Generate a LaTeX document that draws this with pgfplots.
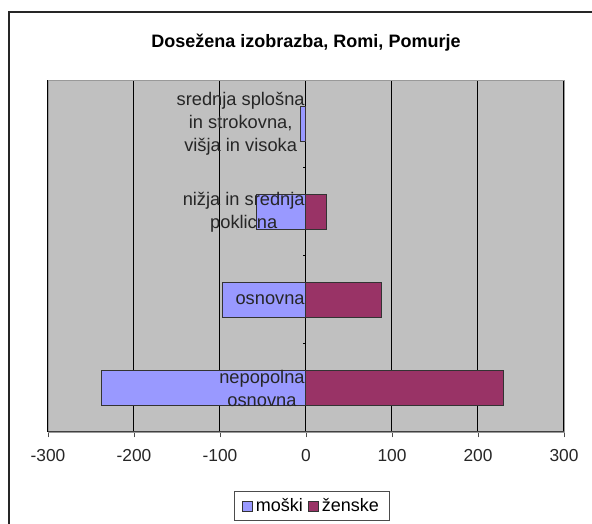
\documentclass[border=0pt]{standalone}
\usepackage{pgfplots}
\pgfplotsset{compat=1.18}
\usepackage{fontspec}
\setmainfont{Liberation Sans}

\definecolor{moski}{HTML}{9999FF}
\definecolor{zenske}{HTML}{993366}
\definecolor{plotbg}{HTML}{C0C0C0}

\pgfplotsset{
    pyramid frame/.style={
        at={(36pt,69pt)}, anchor=south west,
        scale only axis,
        width=387pt, height=264pt,
        xmin=-300, xmax=300,
        ymin=0.5, ymax=4.5,
    },
}

\begin{document}
\begin{tikzpicture}
% page = 592 x 524 px, 1px = 0.75pt
\useasboundingbox (0,0) rectangle (444pt,393pt);
\clip (0,0) rectangle (444pt,393pt);
\fill[white] (0,0) rectangle (444pt,393pt);
\draw[black!85, line width=1.1pt] (6.75pt,-10pt) rectangle (470pt,384pt);

% bars, grid, x axis, title, legend
\begin{axis}[
    pyramid frame,
    xbar, bar width=0.4,
    xtick={-300,-200,...,300},
    ytick=\empty,
    xmajorgrids,
    grid style={black, line width=0.75pt},
    axis background/.style={fill=plotbg},
    axis line style={gray!80},
    xtick pos=lower,
    tick align=outside,
    major tick length=4pt,
    x tick style={black!70, line width=0.6pt},
    /pgf/number format/assume math mode=true,
    xticklabel style={font=\fontsize{13}{15}\selectfont, text=black!85, yshift=-5.75pt},
    title={\bfseries Dosežena izobrazba, Romi, Pomurje},
    title style={font=\fontsize{13.5}{16}\selectfont, at={(0.5,1)}, anchor=center, yshift=22pt},
    legend style={at={(0.5116,-0.21)}, anchor=center, legend columns=2,
        draw=black!70, line width=0.6pt, font=\fontsize{13.5}{16}\selectfont,
        inner xsep=6pt, inner ysep=3pt,
        /tikz/every even column/.append style={column sep=2pt}},
    legend image code/.code={\draw[#1, draw=black!80, line width=0.6pt] (0pt,-3.75pt) rectangle (7.5pt,3.75pt);},
]
\addplot[fill=moski, draw=black!80, line width=0.75pt, bar shift=0pt]
coordinates {(-238,1) (-97,2) (-57,3) (-6,4)};
\addplot[fill=zenske, draw=black!80, line width=0.75pt, bar shift=0pt]
coordinates {(230,1) (88,2) (24,3) (0,4)};
\legend{moški, ženske}
\draw[black!75, line width=0.75pt] (rel axis cs:0,0) -- (rel axis cs:1,0);
\pgfplotsinvokeforeach{1.5,2.5,3.5}{
    \draw[black, line width=0.75pt] (axis cs:0,#1) -- (axis cs:-4,#1);
}
\end{axis}

% category names, set over the bars
\begin{axis}[
    pyramid frame,
    axis line style={draw=none},
    xtick=\empty,
    ytick={1,2,3,4},
    y tick style={draw=none},
    yticklabels={nepopolna\\osnovna, osnovna, nižja in srednja\\poklicna, {srednja splošna\\in strokovna,\\višja in visoka}},
    yticklabel style={font=\fontsize{13.7}{17.25}\selectfont, align=center, xshift=196pt, text=black!85},
]
\end{axis}
\end{tikzpicture}
\end{document}
